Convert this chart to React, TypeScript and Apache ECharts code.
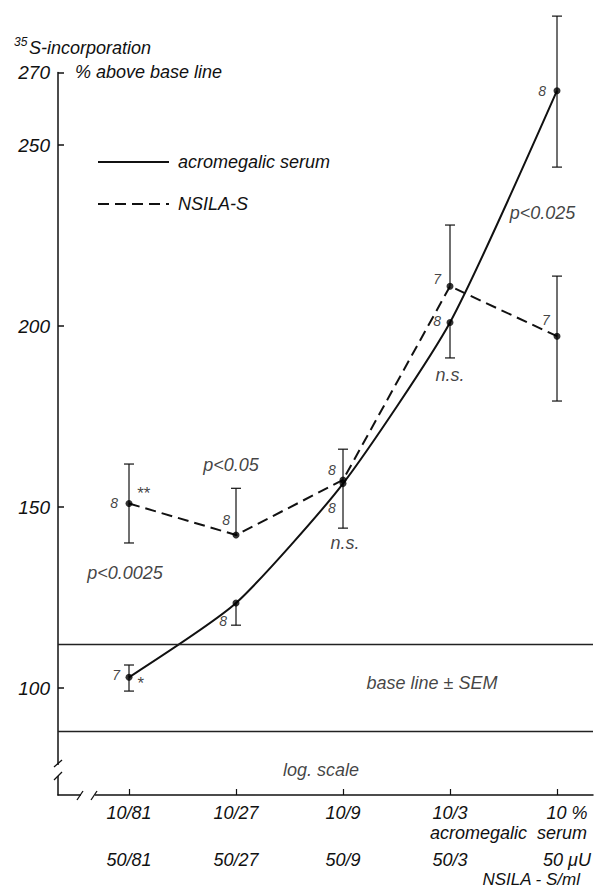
import React, { useEffect, useRef } from 'react';
import * as echarts from 'echarts';

// ---------- data ----------
const xPositions = [0, 1, 2, 3, 4];
const xLabelsTop = ['10/81', '10/27', '10/9', '10/3', '10 %'];
const xLabelsBottom = ['50/81', '50/27', '50/9', '50/3', '50 μU'];
const yTickValues = [100, 150, 200, 250, 270];

const acroValues = [103, 123.5, 156.5, 201, 265];
const acroLow = [99.2, 117.4, 144.2, 191.2, 243.9];
const acroHigh = [106.4, 123.5, 156.5, 201, 285.6];

const nsilaValues = [151, 142.3, 157.5, 211, 197.2];
const nsilaLow = [140.1, 142.3, 157.5, 211, 179.3];
const nsilaHigh = [161.9, 155.2, 166, 227.9, 213.8];

const baseLine = 100;
const baseSEM = 12;

const annTexts = ['p<0.025', 'p<0.05', '**', 'p<0.0025', '8', '8', '8', '7', '*', '8', '8', 'n.s.', '7', '8', 'n.s.', '8', '7', 'base line ± SEM', 'log. scale'];
const annX = [3.865, 0.953, 0.131, -0.037, -0.14, 0.907, 0.879, -0.121, 0.103, 1.897, 1.897, 2.019, 2.879, 2.879, 3.0, 3.86, 3.897, 2.832, 1.794];
const annY = [231.2, 161.6, 153.9, 131.8, 151.1, 146.4, 118.5, 103.6, 101.2, 160.2, 149.7, 140.1, 213.0, 201.4, 186.5, 264.9, 201.7, 101.4, 77.3];
const annKind = ['p', 'p', 's', 'p', 'n', 'n', 'n', 'n', 's', 'n', 'n', 'p', 'n', 'n', 'p', 'n', 'n', 'p', 'p'];

const FONT = '"Liberation Sans", Arial, sans-serif';
const INK = '#111';

function errorRender(params: any, api: any) {
  const x = api.value(0);
  const lo = api.value(1);
  const hi = api.value(2);
  const v = api.value(3);
  const pLo = api.coord([x, lo]);
  const pHi = api.coord([x, hi]);
  const cap = 5;
  const style = { stroke: INK, lineWidth: 1.2 };
  const children: any[] = [
    { type: 'line', shape: { x1: pLo[0], y1: pLo[1], x2: pHi[0], y2: pHi[1] }, style },
  ];
  if (lo < v) children.push({ type: 'line', shape: { x1: pLo[0] - cap, y1: pLo[1], x2: pLo[0] + cap, y2: pLo[1] }, style });
  if (hi > v) children.push({ type: 'line', shape: { x1: pHi[0] - cap, y1: pHi[1], x2: pHi[0] + cap, y2: pHi[1] }, style });
  return { type: 'group', children };
}

export default function App() {
  const ref = useRef<HTMLDivElement>(null);

  useEffect(() => {
    if (!ref.current) return;
    const chart = echarts.init(ref.current, null, { renderer: 'svg' });

    const acroErr = xPositions.map((x, i) => [x, acroLow[i], acroHigh[i], acroValues[i]]);
    const nsilaErr = xPositions.map((x, i) => [x, nsilaLow[i], nsilaHigh[i], nsilaValues[i]]);
    const annData = annTexts.map((t, i) => ({
      value: [annX[i], annY[i]],
      name: t,
      label: { fontSize: annKind[i] === 'n' ? 14 : annKind[i] === 's' ? 17 : 18 },
    }));
    const lastIdx = xPositions.length - 1;

    const option: any = {
      animation: false,
      backgroundColor: '#fff',
      textStyle: { fontFamily: FONT, fontStyle: 'italic', color: INK },
      grid: { left: 58, right: 13, top: 72.6, bottom: 93, containLabel: false },
      legend: {
        orient: 'vertical',
        left: 92,
        top: 148,
        itemWidth: 71,
        itemHeight: 14,
        itemGap: 24,
        data: ['acromegalic serum', 'NSILA-S'],
        itemStyle: { opacity: 0, borderWidth: 0 },
        textStyle: { fontFamily: FONT, fontStyle: 'italic', fontSize: 18, color: INK, padding: [0, 0, 0, 4] },
      },
      xAxis: {
        type: 'value',
        min: -0.6636,
        max: 4.3364,
        splitLine: { show: false },
        axisLine: { show: true, onZero: false, lineStyle: { color: INK, width: 1.5 } },
        axisTick: { show: true, inside: true, length: 6, customValues: xPositions, lineStyle: { color: INK, width: 1.2 } },
        axisLabel: {
          customValues: xPositions,
          margin: 8,
          formatter: (v: number) => {
            const i = xPositions.indexOf(Math.round(v));
            if (i < 0) return '';
            if (i === lastIdx) return `{c|${xLabelsTop[i]}}\n{d|${xLabelsBottom[i]}}`;
            return `{a|${xLabelsTop[i]}}\n{b|${xLabelsBottom[i]}}`;
          },
          rich: {
            a: { fontFamily: FONT, fontStyle: 'italic', fontSize: 18, color: INK, lineHeight: 20 },
            b: { fontFamily: FONT, fontStyle: 'italic', fontSize: 18, color: INK, lineHeight: 74 },
            c: { fontFamily: FONT, fontStyle: 'italic', fontSize: 18, color: INK, lineHeight: 20, padding: [0, 0, 0, 20] },
            d: { fontFamily: FONT, fontStyle: 'italic', fontSize: 18, color: INK, lineHeight: 74, padding: [0, 0, 0, 20] },
          },
        },
      },
      yAxis: {
        type: 'value',
        min: 70.5,
        max: 270,
        splitLine: { show: false },
        axisLine: { show: true, onZero: false, lineStyle: { color: INK, width: 1.5 } },
        axisTick: { show: true, inside: true, length: 6, customValues: yTickValues, lineStyle: { color: INK, width: 1.5 } },
        axisLabel: { customValues: yTickValues, margin: 8, fontFamily: FONT, fontStyle: 'italic', fontSize: 19, color: INK },
      },
      series: [
        {
          name: 'acromegalic serum',
          type: 'line',
          data: xPositions.map((x, i) => [x, acroValues[i]]),
          symbol: 'none',
          smooth: 0.2,
          clip: false,
          lineStyle: { color: INK, width: 2, type: 'solid' },
          itemStyle: { color: INK },
          z: 3,
          markLine: {
            silent: true,
            symbol: 'none',
            label: { show: false },
            lineStyle: { color: '#222', width: 1.3, type: 'solid' },
            data: [{ yAxis: baseLine + baseSEM }, { yAxis: baseLine - baseSEM }],
          },
        },
        {
          name: 'NSILA-S',
          type: 'line',
          data: xPositions.map((x, i) => [x, nsilaValues[i]]),
          symbol: 'none',
          clip: false,
          lineStyle: { color: INK, width: 2, type: [11, 6] },
          itemStyle: { color: INK },
          z: 3,
        },
        {
          type: 'custom',
          renderItem: errorRender,
          data: acroErr,
          clip: false,
          silent: true,
          z: 2,
        },
        {
          type: 'custom',
          renderItem: errorRender,
          data: nsilaErr,
          clip: false,
          silent: true,
          z: 2,
        },
        {
          type: 'scatter',
          data: xPositions.map((x, i) => [x, acroValues[i]]).concat(xPositions.map((x, i) => [x, nsilaValues[i]])),
          symbol: 'circle',
          symbolSize: 7,
          itemStyle: { color: '#000' },
          clip: false,
          silent: true,
          z: 5,
        },
        {
          type: 'scatter',
          data: annData,
          symbolSize: 0,
          clip: false,
          silent: true,
          z: 6,
          label: {
            show: true,
            position: 'inside',
            formatter: (p: any) => p.name,
            fontFamily: FONT,
            fontStyle: 'italic',
            color: INK,
          },
        },
      ],
      graphic: [
        { type: 'text', left: 14, top: 36, z: 100, style: { text: '35', fontFamily: FONT, fontStyle: 'italic', fontSize: 12, fill: INK } },
        { type: 'text', left: 29, top: 39, z: 100, style: { text: 'S-incorporation', fontFamily: FONT, fontStyle: 'italic', fontSize: 18, fill: INK } },
        { type: 'text', left: 75, top: 63, z: 100, style: { text: '% above base line', fontFamily: FONT, fontStyle: 'italic', fontSize: 18, fill: INK } },
        { type: 'text', x: 587, y: 833, z: 100, style: { text: 'acromegalic  serum', align: 'right', verticalAlign: 'middle', fontFamily: FONT, fontStyle: 'italic', fontSize: 18, fill: INK } },
        { type: 'text', x: 580, y: 879, z: 100, style: { text: 'NSILA - S/ml', align: 'right', verticalAlign: 'middle', fontFamily: FONT, fontStyle: 'italic', fontSize: 17, fill: INK } },
        // y-axis break
        { type: 'rect', z: 100, shape: { x: 50, y: 765, width: 16, height: 11 }, style: { fill: '#fff' } },
        { type: 'line', z: 101, shape: { x1: 54, y1: 767, x2: 62, y2: 760 }, style: { stroke: INK, lineWidth: 1.3 } },
        { type: 'line', z: 101, shape: { x1: 54, y1: 780, x2: 62, y2: 772 }, style: { stroke: INK, lineWidth: 1.3 } },
        // x-axis break
        { type: 'rect', z: 100, shape: { x: 81, y: 790, width: 14, height: 10 }, style: { fill: '#fff' } },
        { type: 'line', z: 101, shape: { x1: 77, y1: 800, x2: 83, y2: 791 }, style: { stroke: INK, lineWidth: 1.3 } },
        { type: 'line', z: 101, shape: { x1: 91, y1: 800, x2: 97, y2: 791 }, style: { stroke: INK, lineWidth: 1.3 } },
      ],
    };

    chart.setOption(option);
    return () => chart.dispose();
  }, []);

  return <div ref={ref} style={{ position: 'fixed', left: 0, top: 0, width: 606, height: 888, background: '#fff' }} />;
}
